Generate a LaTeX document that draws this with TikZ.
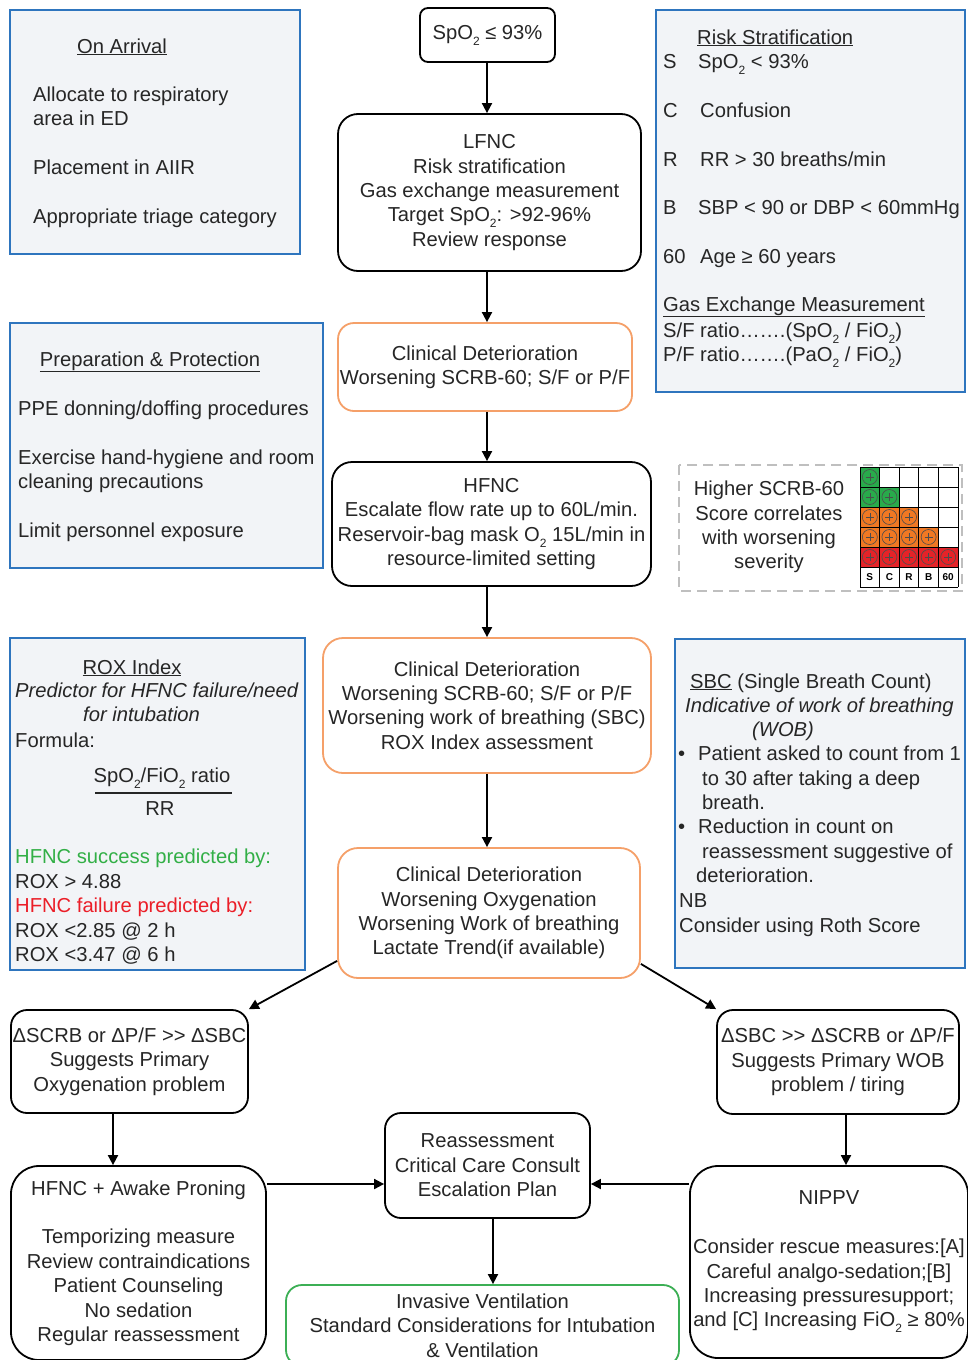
\documentclass[tikz,border=0pt]{standalone}
\usepackage{fontspec}
\setmainfont{Liberation Sans}
\usetikzlibrary{arrows.meta,calc,positioning}

\definecolor{infoblue}{RGB}{46,117,190}
\definecolor{infofill}{RGB}{242,244,247}
\definecolor{detorange}{RGB}{245,160,105}
\definecolor{invgreen}{RGB}{60,175,85}
\definecolor{txtgray}{RGB}{38,38,38}
\definecolor{okgreen}{RGB}{50,175,70}
\definecolor{badred}{RGB}{235,30,40}
\definecolor{cellgreen}{RGB}{40,170,75}
\definecolor{cellorange}{RGB}{240,120,35}
\definecolor{cellred}{RGB}{228,35,40}
\newcommand{\lo}[1]{\raisebox{-6pt}{\fontsize{12}{12}\selectfont #1}}

\begin{document}
\begin{tikzpicture}[x=1pt,y=-1pt,
	every node/.style={font=\fontsize{20.2}{24.4}\selectfont, text=txtgray},
	flow/.style={draw=black, line width=1.8pt, rounded corners=16pt, align=center, inner sep=1pt},
	det/.style={flow, draw=detorange},
	info/.style={draw=infoblue, fill=infofill, line width=1.8pt, inner sep=0pt},
	item/.style={anchor=base west, inner sep=0pt},
	head/.style={anchor=base, inner sep=0pt},
	arr/.style={-{Triangle[length=10pt,width=10pt]}, line width=1.8pt},
	dashbox/.style={draw=black!25, line width=2pt, dash pattern=on 10pt off 6pt}]
	\fill[white] (0,0) rectangle (967,1360);
	\useasboundingbox (0,0) rectangle (967,1360);
	% Infokaesten
		\node (arrival) [info, minimum width=290pt, minimum height=244pt] at (155,132) {};
		\node (prep) [info, minimum width=313pt, minimum height=245pt] at (166.5,445.5) {};
		\node (risk) [info, minimum width=309pt, minimum height=382pt] at (810.5,201) {};
		\node (rox) [info, minimum width=295pt, minimum height=332pt] at (157.5,804) {};
		\node (sbc) [info, minimum width=290pt, minimum height=329pt] at (820,803.5) {};
	% On Arrival
		\node (arrT) [head] at (122,53) {\underline{On Arrival}};
		\node (arr1) [item] at (33,101) {Allocate to respiratory};
		\node (arr2) [item] at (33,125) {area in ED};
		\node (arr3) [item] at (33,174) {Placement in AIIR};
		\node (arr4) [item] at (33,223) {Appropriate triage category};
	% Preparation
		\node (prepT) [head] at (150,366) {\underline{Preparation \& Protection}};
		\node (prep1) [item] at (18,415) {PPE donning/doffing procedures};
		\node (prep2) [item] at (18,464) {Exercise hand-hygiene and room};
		\node (prep3) [item] at (18,488) {cleaning precautions};
		\node (prep4) [item] at (18,537) {Limit personnel exposure};
	% Risk Stratification
		\node (riskT) [item] at (697,44) {\underline{Risk Stratification}};
		\node (rS) [item] at (663,68) {S};
		\node (rSt) [item] at (698,68) {SpO\lo{2} < 93\%};
		\node (rC) [item] at (663,117) {C};
		\node (rCt) [item] at (700,117) {Confusion};
		\node (rR) [item] at (663,166) {R};
		\node (rRt) [item] at (700,166) {RR > 30 breaths/min};
		\node (rB) [item] at (663,214) {B};
		\node (rBt) [item] at (698,214) {SBP < 90 or DBP < 60mmHg};
		\node (rA) [item] at (663,263) {60};
		\node (rAt) [item] at (700,263) {Age ≥ 60 years};
		\node (gasT) [item] at (663,311) {\underline{Gas Exchange Measurement}};
		\node (gas1) [item] at (663,337) {S/F ratio…….(SpO\lo{2} / FiO\lo{2})};
		\node (gas2) [item] at (663,361) {P/F ratio…….(PaO\lo{2} / FiO\lo{2})};
	% ROX Index
		\node (roxT) [head] at (132,674) {\underline{ROX Index}};
		\node (rox1) [item] at (15,697) {\itshape Predictor for HFNC failure/need};
		\node (rox2) [item] at (83,721) {\itshape for intubation};
		\node (rox3) [item] at (15,747) {Formula:};
		\node (roxN) [head] at (162,782) {SpO\lo{2}/FiO\lo{2} ratio};
		\draw[line width=1.6pt, txtgray] (95,793) -- (232,793);
		\node (roxD) [head] at (160,815) {RR};
		\node (rox4) [item, text=okgreen] at (15,863) {HFNC success predicted by:};
		\node (rox5) [item] at (15,888) {ROX > 4.88};
		\node (rox6) [item, text=badred] at (15,912) {HFNC failure predicted by:};
		\node (rox7) [item] at (15,937) {ROX <2.85 @ 2 h};
		\node (rox8) [item] at (15,961) {ROX <3.47 @ 6 h};
	% SBC
		\node (sbcT) [item] at (690,688) {\underline{SBC} (Single Breath Count)};
		\node (sbc1) [item] at (685,712) {\itshape Indicative of work of breathing};
		\node (sbc2) [item] at (752,736) {\itshape (WOB)};
		\node (sbcB1) [item] at (678,760) {•};
		\node (sbc3) [item] at (698,760) {Patient asked to count from 1};
		\node (sbc4) [item] at (702,785) {to 30 after taking a deep};
		\node (sbc5) [item] at (702,809) {breath.};
		\node (sbcB2) [item] at (678,833) {•};
		\node (sbc6) [item] at (698,833) {Reduction in count on};
		\node (sbc7) [item] at (702,858) {reassessment suggestive of};
		\node (sbc8) [item] at (696,882) {deterioration.};
		\node (sbc9) [item] at (679,907) {NB};
		\node (sbc10) [item] at (679,932) {Consider using Roth Score};
	% SCRB-60 Raster
		\draw[dashbox] (679,465) rectangle (962,591);
		\node (scrbT) [align=center, inner sep=0pt] at (769,527) {Higher SCRB-60\\Score correlates\\with worsening\\severity};
		\foreach \r/\col in {1/cellgreen,2/cellgreen,3/cellorange,4/cellorange,5/cellred} {
			\foreach \c in {1,...,\r} {
				\fill[\col] ({860+(\c-1)*19.6},{467+(\r-1)*20}) rectangle ++(19.6,20);
				\draw[line width=0.6pt, black!70] ({860+(\c-0.5)*19.6},{467+(\r-0.5)*20}) circle[radius=7.5pt];
				\draw[line width=0.6pt, black!70] ({860+(\c-0.5)*19.6-4},{467+(\r-0.5)*20}) -- ++(8,0)
					({860+(\c-0.5)*19.6},{467+(\r-0.5)*20-4}) -- ++(0,8);
			}
		}
		\foreach \c in {0,...,5} \draw[line width=1pt] ({860+\c*19.6},467) -- ({860+\c*19.6},587);
		\foreach \r in {0,...,6} \draw[line width=1pt] (860,{467+\r*20}) -- (958,{467+\r*20});
		\foreach \l [count=\i] in {S,C,R,B,60}
			\node (lab\i) [inner sep=0pt, font=\fontsize{10}{10}\selectfont\bfseries, text=black] at ({860+(\i-0.5)*19.6},577) {\l};
	% Ablauf
		\node (spo2) [flow, rounded corners=8pt, minimum width=135pt, minimum height=54pt] at (487.5,35) {SpO\lo{2} ≤ 93\%};
		\node (lfnc) [flow, rounded corners=20pt, minimum width=303pt, minimum height=157pt] at (489.5,192.5)
			{LFNC\\Risk stratification\\Gas exchange measurement\\Target SpO\lo{2}: >92-96\%\\Review response};
		\node (det1) [det, minimum width=294pt, minimum height=88pt] at (485,367)
			{Clinical Deterioration\\Worsening SCRB-60; S/F or P/F};
		\node (hfnc) [flow, rounded corners=20pt, minimum width=319pt, minimum height=124pt] at (491.5,524)
			{HFNC\\Escalate flow rate up to 60L/min.\\Reservoir-bag mask O\lo{2} 15L/min in\\resource-limited setting};
		\node (det2) [det, rounded corners=20pt, minimum width=328pt, minimum height=135pt] at (487,705.5)
			{Clinical Deterioration\\Worsening SCRB-60; S/F or P/F\\Worsening work of breathing (SBC)\\ROX Index assessment};
		\node (det3) [det, rounded corners=20pt, minimum width=302pt, minimum height=130pt] at (489,913)
			{Clinical Deterioration\\Worsening Oxygenation\\Worsening Work of breathing\\Lactate Trend(if available)};
		\node (oxy) [flow, minimum width=237pt, minimum height=103pt] at (129.5,1061.5)
			{ΔSCRB or ΔP/F >{}> ΔSBC\\Suggests Primary\\Oxygenation problem};
		\node (wob) [flow, minimum width=242pt, minimum height=104pt] at (838,1062)
			{ΔSBC >{}> ΔSCRB or ΔP/F\\Suggests Primary WOB\\problem / tiring};
		\node (awake) [flow, rounded corners=28pt, minimum width=255pt, minimum height=194pt] at (138.5,1263)
			{HFNC + Awake Proning\\[24.4pt]Temporizing measure\\Review contraindications\\Patient Counseling\\No sedation\\Regular reassessment};
		\node (reass) [flow, minimum width=205pt, minimum height=105pt] at (487.5,1165.5)
			{Reassessment\\Critical Care Consult\\Escalation Plan};
		\node (inv) [flow, draw=invgreen, minimum width=393pt, minimum height=81pt] at (482.5,1325.5)
			{Invasive Ventilation\\Standard Considerations for Intubation\\\& Ventilation};
		\node (nippv) [flow, rounded corners=28pt, minimum width=278pt, minimum height=192pt] at (829,1262)
			{NIPPV\\[24.4pt]Consider rescue measures:[A]\\Careful analgo-sedation;[B]\\Increasing pressuresupport;\\and [C] Increasing FiO\lo{2} ≥ 80\%};
	% Pfeile
		\coordinate (spine) at (487,0);
		\coordinate (lspine) at (113,0);
		\coordinate (rspine) at (846,0);
		\coordinate (dspine) at (493,0);
		\coordinate (mid) at (0,1184);
		\draw[arr] (spine |- spo2.south) -- (spine |- lfnc.north);
		\draw[arr] (spine |- lfnc.south) -- (spine |- det1.north);
		\draw[arr] (spine |- det1.south) -- (spine |- hfnc.north);
		\draw[arr] (spine |- hfnc.south) -- (spine |- det2.north);
		\draw[arr] (spine |- det2.south) -- (spine |- det3.north);
		\draw[arr] ($(det3.south west)+(0,-18)$) -- (oxy.north east);
		\draw[arr] ($(det3.south east)+(0,-15)$) -- (wob.north west);
		\draw[arr] (lspine |- oxy.south) -- (lspine |- awake.north);
		\draw[arr] (rspine |- wob.south) -- (rspine |- nippv.north);
		\draw[arr] (awake.east |- mid) -- (reass.west |- mid);
		\draw[arr] (nippv.west |- mid) -- (reass.east |- mid);
		\draw[arr] (dspine |- reass.south) -- (dspine |- inv.north);
\end{tikzpicture}
\end{document}
